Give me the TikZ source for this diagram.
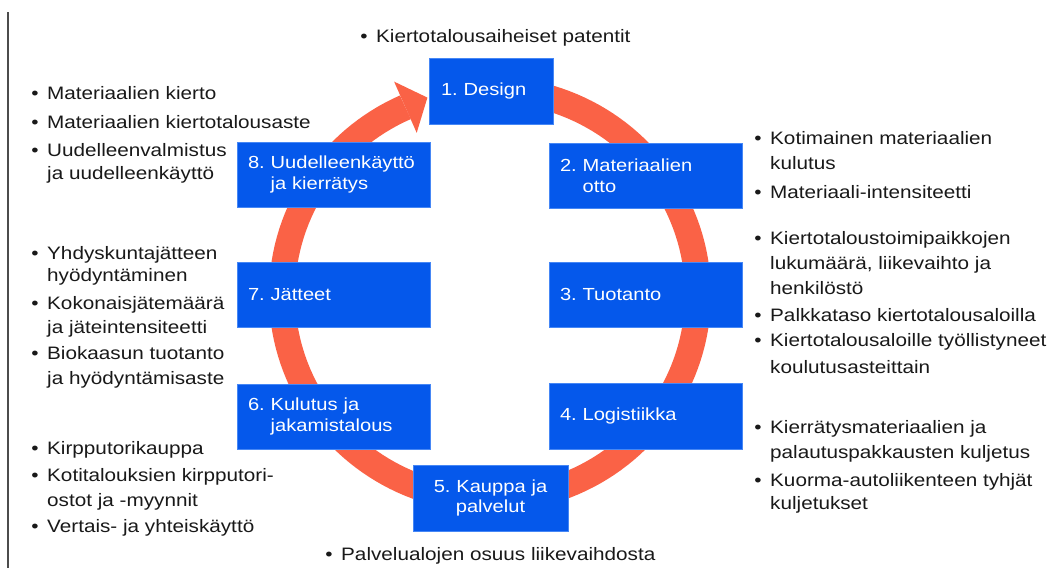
\documentclass[tikz,border=0pt]{standalone}
\usepackage{fontspec}
\setmainfont{Liberation Sans}[FakeStretch=1.15]
\frenchspacing
\definecolor{ringc}{RGB}{250,98,70}
\definecolor{boxc}{RGB}{5,88,235}
\definecolor{boxedge}{RGB}{70,135,245}
\newcommand{\mybul}{\llap{•\hspace{8.5pt}}}
\tikzset{
  box/.style={fill=boxc, draw=boxedge, line width=0.8pt, text=white,
    font=\fontsize{17.5}{20.5}\selectfont, minimum height=65pt,
    inner ysep=0pt, inner xsep=11pt, text width=171pt, align=left},
  txt/.style={anchor=base west, inner sep=0pt, font=\fontsize{18}{22}\selectfont, text=black!90},
  ring/.style={draw=ringc, line width=26pt}
}
\begin{document}
\begin{tikzpicture}[x=1pt,y=-1pt]
\useasboundingbox (0,0) rectangle (1050,568);
\fill[white] (0,0) rectangle (1050,568);
\draw[gray!60!black, line width=1.2pt] (8,12) -- (8,568);
% ring
\draw[ring] plot[domain=270:606, samples=160] ({490+208*cos(\x)}, {294.5+205*sin(\x)});
\fill[ringc] (394.1,81.6) -- (427.4,97.6) -- (416.7,132.8) -- cycle;
% boxes
\node[box, text width=100pt, inner xsep=12pt, minimum height=66pt] (b1) at (491,91) {1. Design};
\node[box] (b8) at (333.5,174.5) {8. Uudelleenkäyttö\\\phantom{8.\ }ja kierrätys};
\node[box] (b2) at (645.5,175.5) {2. Materiaalien\\\phantom{2.\ }otto};
\node[box] (b7) at (333.5,294.5) {7. Jätteet};
\node[box] (b3) at (645.5,294.5) {3. Tuotanto};
\node[box] (b6) at (333.5,416.5) {6. Kulutus ja\\\phantom{6.\ }jakamistalous};
\node[box, minimum height=66pt] (b4) at (645.5,416) {4. Logistiikka};
\node[box, text width=139pt, inner xsep=8pt, align=center, minimum height=66pt] (b5) at (490.5,498) {5. Kauppa ja\\palvelut};
% texts
\foreach \n/\x/\y/\t in {
  top/376/42/{\mybul Kiertotalousaiheiset patentit},
  bot/341/560/{\mybul Palvelualojen osuus liikevaihdosta},
  la/47/99/{\mybul Materiaalien kierto},
  lb/47/128/{\mybul Materiaalien kiertotalousaste},
  lc/47/156/{\mybul Uudelleenvalmistus},
  ld/47/179/{ja uudelleenkäyttö},
  le/47/259/{\mybul Yhdyskuntajätteen},
  lf/47/281/{hyödyntäminen},
  lg/47/309/{\mybul Kokonaisjätemäärä},
  lh/47/333/{ja jäteintensiteetti},
  li/47/359/{\mybul Biokaasun tuotanto},
  lj/47/384/{ja hyödyntämisaste},
  lk/47/454/{\mybul Kirpputorikauppa},
  ll/47/481/{\mybul Kotitalouksien kirpputori-},
  lm/47/506/{ostot ja -myynnit},
  ln/47/532/{\mybul Vertais- ja yhteiskäyttö},
  ra/770/144/{\mybul Kotimainen materiaalien},
  rb/770/169/{kulutus},
  rc/770/198/{\mybul Materiaali-intensiteetti},
  rd/770/244/{\mybul Kiertotaloustoimipaikkojen},
  re/770/269/{lukumäärä, liikevaihto ja},
  rf/770/294/{henkilöstö},
  rg/770/321/{\mybul Palkkataso kiertotalousaloilla},
  rh/770/346/{\mybul Kiertotalousaloille työllistyneet},
  ri/770/373/{koulutusasteittain},
  rj/770/433/{\mybul Kierrätysmateriaalien ja},
  rk/770/458/{palautuspakkausten kuljetus},
  rl/770/486/{\mybul Kuorma-autoliikenteen tyhjät},
  rm/770/509/{kuljetukset}}
  \node[txt] (\n) at (\x,\y) {\t};
\end{tikzpicture}
\end{document}
